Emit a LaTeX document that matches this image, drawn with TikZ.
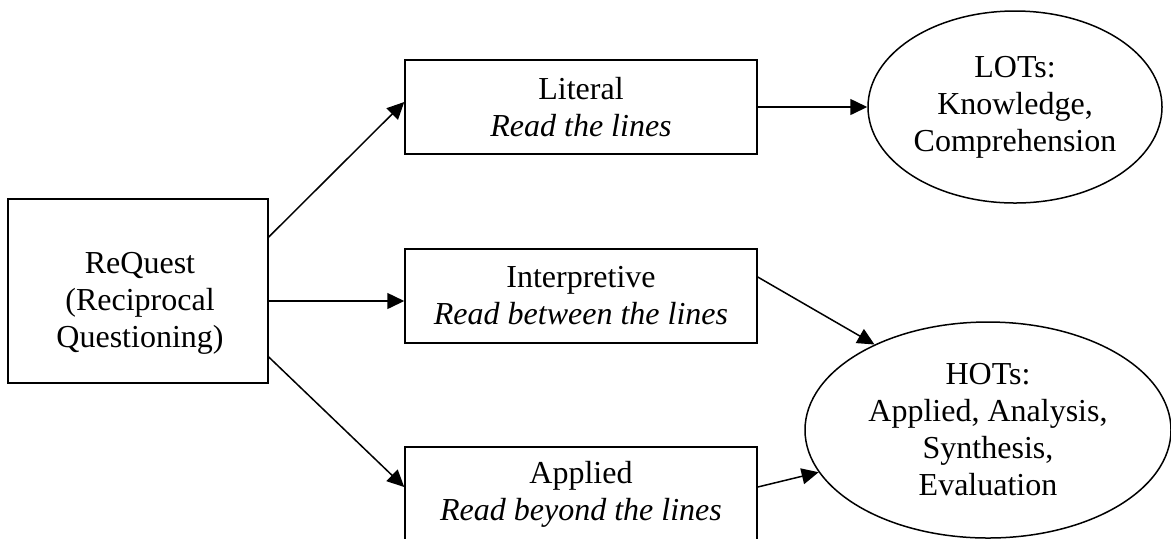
\documentclass[tikz,border=0pt]{standalone}
\usepackage{fontspec}
\setmainfont{Liberation Serif}
\usetikzlibrary{shapes.geometric,arrows.meta}
\begin{document}
\begin{tikzpicture}[x=0.5pt,y=-0.5pt,line width=0.75pt,
        font=\fontsize{16}{18.5}\selectfont,
        qbox/.style={draw,rectangle,inner sep=0pt},
        levelbox/.style={draw,rectangle,inner sep=0pt,align=center,minimum width=176pt,minimum height=47pt},
        hotsell/.style={draw,ellipse,inner sep=0pt,align=center},
        tip/.style={-{Triangle[length=8.5pt,width=8pt]}}]
        \clip (0,0) rectangle (1171,538);
        \node[qbox,minimum width=130pt,minimum height=92pt] (req) at (138,291) {};
        \node[align=center] (reqtext) at (140,303) {ReQuest\\(Reciprocal\\Questioning)};
        \node[levelbox] (lit) at (581,107) {Literal\\\textit{Read the lines}};
        \node[levelbox] (int) at (581,296) {Interpretive\\\textit{Read between the lines}};
        \node[levelbox] (app) at (581,494) {Applied\\\textit{Read beyond the lines}};
        \node[hotsell,minimum width=147pt,minimum height=96pt] (lots) at (1015,107) {LOTs:\\Knowledge,\\Comprehension};
        \node[hotsell,minimum width=183pt,minimum height=108pt] (hots) at (988,430) {HOTs:\\Applied, Analysis,\\Synthesis,\\Evaluation};
        \draw[tip] ([yshift=27pt]req.east) -- ([yshift=2.5pt]lit.west);
        \draw[tip] ([yshift=-5pt]req.east) -- ([yshift=-2.5pt]int.west);
        \draw[tip] ([yshift=-33pt]req.east) -- ([yshift=3.5pt]app.west);
        \draw[tip] (lit.east) -- (lots.west);
        \draw[tip] ([yshift=9.5pt]int.east) -- (hots.143);
        \draw[tip] ([yshift=3.5pt]app.east) -- (hots.194);
    \end{tikzpicture}
\end{document}
